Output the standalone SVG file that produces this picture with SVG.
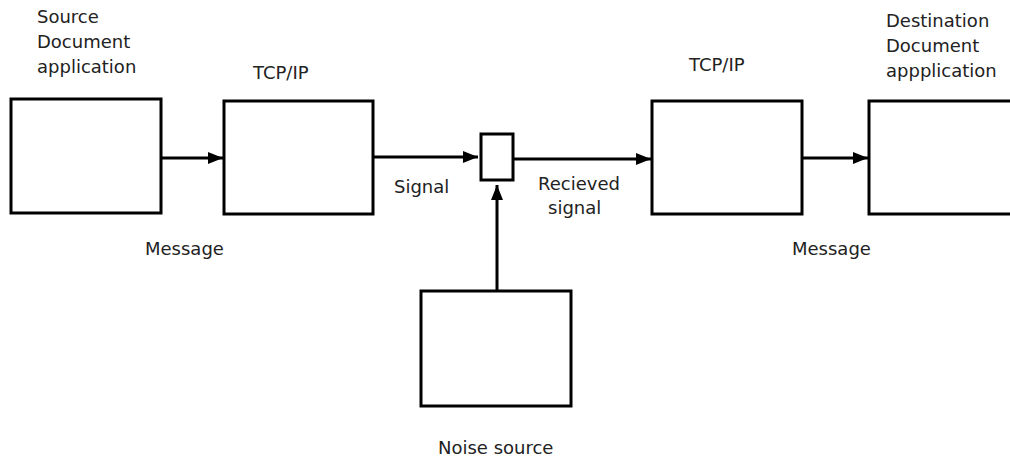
<svg xmlns="http://www.w3.org/2000/svg" width="1010" height="459" viewBox="0 0 1010 459">
<style>
.box{fill:#fff;stroke:#000;stroke-width:3}
.edge{fill:none;stroke:#000;stroke-width:3}
text{font-family:"DejaVu Sans",Verdana,sans-serif;font-size:18px;fill:#222}
</style>
<defs>
<marker id="arr" markerUnits="userSpaceOnUse" markerWidth="15" markerHeight="12" refX="15" refY="6" orient="auto">
<path d="M0,0 L15,6 L0,12 z" fill="#000"/>
</marker>
</defs>
<rect width="1010" height="459" fill="#fff"/>
<g id="source">
<rect class="box" x="11" y="99" width="150" height="114"/>
<text x="37" y="23">Source</text>
<text x="37" y="48">Document</text>
<text x="37" y="73">application</text>
</g>
<g id="tcpip1">
<rect class="box" x="224" y="101" width="149" height="113"/>
<text x="253" y="79">TCP/IP</text>
</g>
<g id="channel">
<rect class="box" x="481" y="134" width="32" height="46"/>
</g>
<g id="tcpip2">
<rect class="box" x="652" y="101" width="150" height="113"/>
<text x="689" y="71">TCP/IP</text>
</g>
<g id="destination">
<rect class="box" x="869" y="101" width="150" height="113"/>
<text x="886" y="27">Destination</text>
<text x="886" y="52">Document</text>
<text x="886" y="77">appplication</text>
</g>
<g id="noise">
<rect class="box" x="421" y="291" width="150" height="115"/>
<text x="438" y="454">Noise source</text>
</g>
<g id="connectors">
<line class="edge" x1="161" y1="158" x2="223" y2="158" marker-end="url(#arr)"/>
<line class="edge" x1="373" y1="157" x2="478" y2="157" marker-end="url(#arr)"/>
<line class="edge" x1="513" y1="159" x2="651" y2="159" marker-end="url(#arr)"/>
<line class="edge" x1="802" y1="158" x2="868" y2="158" marker-end="url(#arr)"/>
<line class="edge" x1="497" y1="291" x2="497" y2="185" marker-end="url(#arr)"/>
<text x="145" y="255">Message</text>
<text x="394" y="193">Signal</text>
<text x="538" y="190">Recieved</text>
<text x="548" y="214">signal</text>
<text x="792" y="255">Message</text>
</g>
</svg>
